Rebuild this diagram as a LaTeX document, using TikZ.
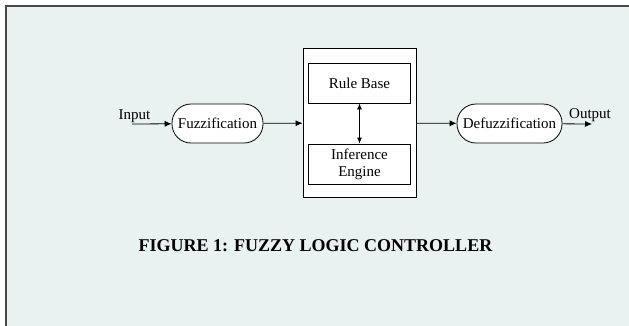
\documentclass[tikz,border=0pt]{standalone}
\usepackage{fontspec}
\setmainfont{Liberation Serif}
\usetikzlibrary{arrows.meta}

\definecolor{fond}{RGB}{233,242,241}
\definecolor{cadre}{RGB}{72,72,72}

\tikzset{
  bloc/.style={draw,fill=white,line width=0.8pt,minimum width=102pt,minimum height=40pt,align=center,inner sep=1pt},
  arrondi/.style={draw,fill=white,line width=0.8pt,rounded corners=19pt,minimum height=39pt,inner xsep=1pt},
  fleche/.style={line width=0.8pt,-{Latex[length=7pt,width=6pt]}},
  fleches/.style={line width=0.8pt,{Latex[length=6pt,width=5pt]}-{Latex[length=6pt,width=5pt]}}
}

\begin{document}
\begin{tikzpicture}[x=1pt,y=-1pt,font=\fontsize{15}{17}\selectfont]
\useasboundingbox (0,0) rectangle (629,325);
\clip (0,0) rectangle (629,325);
\fill[white] (0,0) rectangle (629,325);
\draw[cadre,line width=2pt,fill=fond] (6,6) rectangle (660,360); % le cadre sort de la page

\node[arrondi,minimum width=91pt] (fuzz) at (217.5,123.5) {Fuzzification};
\node[draw,fill=white,line width=0.8pt,minimum width=113pt,minimum height=149pt] (moteur) at (359.5,123) {};
\node[bloc] (base) at (359.5,83) {Rule Base};
\node[bloc] (inf) at (359.5,164) {Inference\\Engine};
\node[arrondi,minimum width=105pt] (defuzz) at (509.5,123.5) {Defuzzification};
\coordinate (entree) at (132,124);
\coordinate (sortie) at (592,124);

\draw[fleche] (entree) -- (fuzz);
\draw[fleche] (fuzz) -- (moteur);
\draw[fleche] (moteur) -- (defuzz);
\draw[fleche] (defuzz) -- (sortie);
\draw[fleches] (base) -- (inf);

\node[anchor=base] (lblin) at (134.5,119) {Input};
\node[anchor=base] (lblout) at (590,118) {Output};
\node[anchor=base,font=\bfseries\fontsize{18}{20}\selectfont] (titre) at (315.5,251) {FIGURE 1: FUZZY LOGIC CONTROLLER};
\end{tikzpicture}
\end{document}
